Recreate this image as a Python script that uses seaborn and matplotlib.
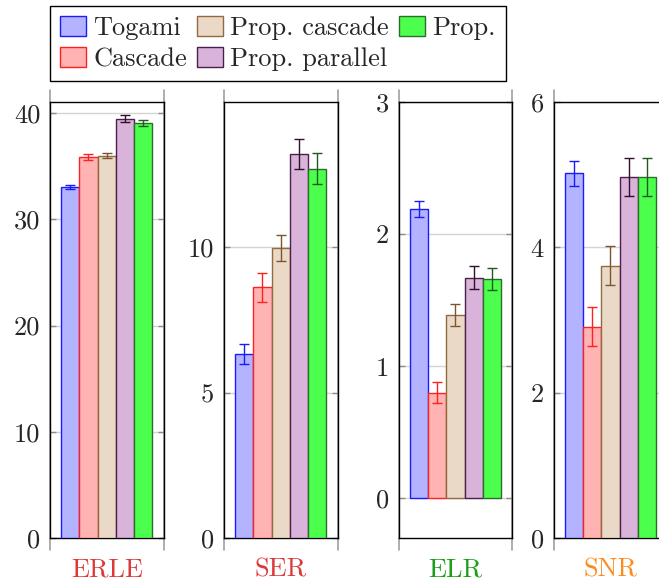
import matplotlib
matplotlib.use("Agg")
import matplotlib.pyplot as plt
import seaborn as sns
import pandas as pd

methods = ["Togami", "Cascade", "Prop. cascade", "Prop. parallel", "Prop."]
metrics = ["ERLE", "SER", "ELR", "SNR"]

erle = [33.07, 35.86, 35.99, 39.47, 39.09]
erle_err = [0.20, 0.28, 0.23, 0.30, 0.30]
ser = [6.34, 8.62, 9.98, 13.21, 12.71]
ser_err = [0.34, 0.49, 0.45, 0.52, 0.53]
elr = [2.19, 0.80, 1.39, 1.67, 1.66]
elr_err = [0.057, 0.080, 0.083, 0.086, 0.085]
snr = [5.02, 2.91, 3.75, 4.97, 4.97]
snr_err = [0.174, 0.264, 0.270, 0.266, 0.266]

values = [erle, ser, elr, snr]
errors = [erle_err, ser_err, elr_err, snr_err]
ylims = [(0, 41.04), (0, 15), (-0.3, 3), (0, 6)]
yticks = [[0, 10, 20, 30, 40], [0, 5, 10], [0, 1, 2, 3], [0, 2, 4, 6]]
label_colors = ["#dc3a3a", "#dc3a3a", "#19a019", "#ff8a1e"]

fills = ["#b3b3ff", "#ffb3b3", "#ead9c6", "#d9b3d9", "#4dff4d"]
edges = ["#1a1aff", "#ff2020", "#93693f", "#4a1f4a", "#2a6e2a"]
errcols = ["#1a1aff", "#ff2020", "#7a5530", "#2e0f2e", "#1f5a1f"]

FS = 19

sns.set_style("white")
plt.rcParams["font.family"] = ["cmr10", "DejaVu Serif"]
plt.rcParams["mathtext.fontset"] = "cm"
plt.rcParams["axes.formatter.use_mathtext"] = True
plt.rcParams["axes.unicode_minus"] = False

W, H = 659, 585
fig = plt.figure(figsize=(W / 100, H / 100), dpi=100)

lefts = [50, 224, 398.7, 553.7]
width_px = 113.5
top_px, bot_px = 102, 538

axes = []
legend_handles = None
for k, metric in enumerate(metrics):
    ax = fig.add_axes([lefts[k] / W, 1 - bot_px / H, width_px / W, (bot_px - top_px) / H])
    axes.append(ax)
    df = pd.DataFrame({"metric": [metric] * len(methods), "method": methods, "value": values[k]})
    sns.barplot(data=df, x="metric", y="value", hue="method", hue_order=methods,
                palette=fills, saturation=1, width=0.8, errorbar=None,
                legend=False, ax=ax, zorder=3)
    bar_conts = list(ax.containers)
    if legend_handles is None:
        legend_handles = [c[0] for c in bar_conts]
    for i, cont in enumerate(bar_conts):
        for bar in cont:
            bar.set_edgecolor(edges[i])
            bar.set_linewidth(1.0)
            cx = bar.get_x() + bar.get_width() / 2
            ax.errorbar(cx, bar.get_height(), yerr=errors[k][i], color=errcols[i],
                        elinewidth=1.0, capsize=3.3, capthick=1.0, zorder=4)
    ax.set_xlim(-0.4967, 0.4967)
    ax.set_ylim(*ylims[k])
    ax.set_yticks(yticks[k])
    ax.set_yticklabels([str(t) for t in yticks[k]])
    ax.yaxis.grid(True, color="#d4d4d4", linewidth=1.0, zorder=0)
    ax.set_axisbelow(True)
    ax.tick_params(axis="y", direction="in", length=4, width=1.0, color="#8c8c8c",
                   labelsize=FS, pad=7, left=True, right=True)
    ax.tick_params(axis="x", length=0, labelsize=FS, pad=14)
    ax.set_xticks([0])
    ax.set_xticklabels([metric])
    ax.get_xticklabels()[0].set_color(label_colors[k])
    ax.set_xlabel("")
    ax.set_ylabel("")
    for s in ax.spines.values():
        s.set_visible(True)
        s.set_color("black")
        s.set_linewidth(1.0)
    for xa in (0, 1):
        ax.plot([xa, xa], [-0.028, 1.028], transform=ax.transAxes, clip_on=False,
                color="#a0a0a0", linewidth=1.2, zorder=0.5)

leg = fig.legend(legend_handles, methods, loc="upper left",
                 bbox_to_anchor=(50 / W, 1 - 6 / H), ncol=3, fontsize=FS,
                 frameon=True, fancybox=False, edgecolor="black", framealpha=1,
                 borderpad=0.38, handlelength=0.98, handleheight=0.8,
                 handletextpad=0.28, columnspacing=0.38, labelspacing=0.25,
                 borderaxespad=0)
leg.get_frame().set_linewidth(1.0)

fig.savefig("out.png", dpi=100)
